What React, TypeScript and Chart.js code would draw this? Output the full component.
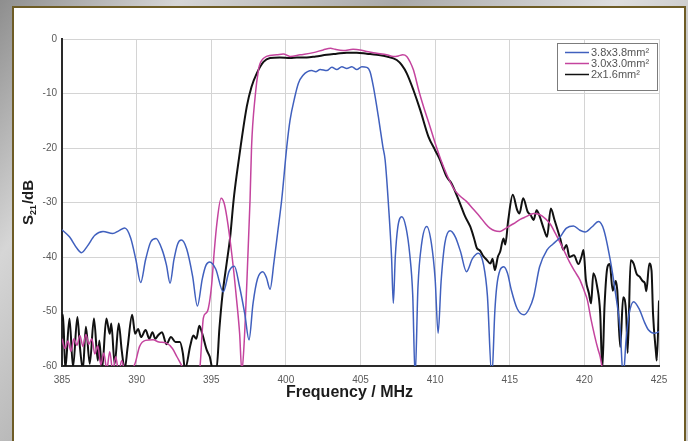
import React, { useEffect, useRef } from "react";
import { Chart, registerables } from "chart.js";

Chart.register(...registerables);

// Frequency axis (MHz) and S21 axis (dB)
const freqMin = 385;
const freqMax = 425;
const freqStep = 5;
const dbMin = -60;
const dbMax = 0;
const dbStep = 10;

const seriesLabels = ["3.8x3.8mm²", "3.0x3.0mm²", "2x1.6mm²"];
const seriesColors = ["#4060be", "#c4449e", "#111111"];
const seriesWidths = [1.5, 1.5, 2];

// [frequency MHz, S21 dB]
const trace38: [number, number][] = [
  [385, -35.0], [385.5, -36.3], [386.0, -38.4], [386.3, -39.2], [386.7, -38.0], [387.2, -36.0],
  [387.75, -35.3], [388.4, -35.7], [388.8, -35.2], [389.2, -34.7], [389.6, -36.5], [389.95, -40.5],
  [390.27, -44.7], [390.6, -40.5], [390.95, -37.2], [391.3, -36.6], [391.7, -38.6], [392.0, -41.5],
  [392.24, -44.8], [392.5, -40.5], [392.75, -37.6], [393.0, -36.9], [393.35, -38.5], [393.75, -43.5],
  [394.07, -49.0], [394.4, -44.0], [394.65, -41.5], [394.9, -40.9], [395.3, -42.2], [395.8, -46.4],
  [396.2, -42.6], [396.55, -41.7], [396.9, -45.5], [397.25, -50.5], [397.53, -55.2], [397.8, -48.5],
  [398.1, -44.0], [398.45, -42.7], [398.7, -43.8], [398.94, -45.9], [399.2, -41.0], [399.45, -35.5],
  [399.72, -29.5], [400.06, -19.8], [400.28, -14.9], [400.6, -10.6], [400.84, -8.1], [401.17, -6.6],
  [401.45, -6.0], [401.73, -5.8], [402.0, -6.0], [402.3, -5.6], [402.74, -5.8], [403.08, -5.2],
  [403.41, -5.6], [403.75, -5.1], [404.08, -5.4], [404.42, -5.1], [404.75, -5.6], [405.09, -5.1],
  [405.42, -5.2], [405.64, -6.0], [405.86, -8.7], [406.2, -14.3], [406.5, -19.8], [406.65, -22.2],
  [406.9, -31.5], [407.08, -40.0], [407.2, -48.5], [407.33, -40.0], [407.5, -34.5], [407.77, -32.6],
  [408.05, -34.6], [408.3, -39.5], [408.5, -47.0], [408.66, -62.0], [408.85, -45.5], [409.1, -37.5],
  [409.44, -34.4], [409.75, -37.5], [410.0, -44.0], [410.2, -54.0], [410.4, -44.5], [410.65, -37.5],
  [411.0, -35.2], [411.35, -36.3], [411.7, -39.0], [412.1, -42.7], [412.5, -40.3], [412.9, -39.3],
  [413.25, -41.5], [413.5, -47.0], [413.8, -62.0], [414.0, -50.0], [414.13, -45.4], [414.35, -42.4],
  [414.6, -41.8], [414.85, -43.0], [415.1, -46.0], [415.5, -49.5], [415.96, -50.6], [416.3, -49.5],
  [416.6, -47.3], [417.0, -41.8], [417.5, -38.7], [417.9, -37.6], [418.3, -36.6], [418.8, -34.7],
  [419.27, -34.3], [419.7, -35.1], [420.05, -35.4], [420.5, -34.5], [420.95, -33.5], [421.3, -35.0],
  [421.73, -40.5], [422.05, -46.0], [422.4, -53.4], [422.6, -62.0], [422.8, -55.0], [423.0, -50.4],
  [423.3, -48.2], [423.7, -49.7], [424.0, -51.8], [424.3, -53.4], [424.7, -54.0], [425.0, -53.7],
];

const trace30: [number, number][] = [
  [385.0, -55.0], [385.2, -56.8], [385.4, -55.4], [385.6, -57.3], [385.8, -55.0], [386.0, -56.2],
  [386.2, -54.4], [386.4, -56.4], [386.6, -54.2], [386.8, -56.0], [387.0, -55.0], [387.2, -57.8],
  [387.4, -56.3], [387.6, -59.8], [387.8, -57.6], [388.0, -60.6], [388.2, -57.4], [388.4, -61.0],
  [388.6, -58.3], [388.8, -61.2], [389.0, -59.0], [389.3, -62.0], [389.6, -61.0], [389.9, -59.5],
  [390.2, -56.4], [390.6, -55.3], [391.1, -55.2], [391.5, -55.6], [392.0, -55.8], [392.4, -56.8],
  [392.7, -58.3], [393.1, -60.5], [393.4, -63.5], [394.0, -63.5], [394.25, -60.0], [394.47, -51.2],
  [394.65, -50.3], [394.8, -49.5], [395.03, -45.0], [395.2, -39.0], [395.37, -34.0], [395.66, -29.2],
  [395.85, -30.0], [396.04, -32.6], [396.4, -40.0], [396.7, -47.9], [396.9, -54.0], [397.05, -61.0],
  [397.2, -56.0], [397.35, -47.0], [397.6, -29.5], [397.7, -19.8], [397.94, -10.6], [398.16, -5.7],
  [398.27, -4.5], [398.7, -3.2], [399.39, -2.9], [399.83, -2.75], [400.28, -3.2], [400.95, -2.9],
  [401.84, -2.5], [402.5, -2.0], [403.0, -1.7], [403.3, -1.9], [403.85, -2.1], [404.5, -1.9],
  [404.97, -2.0], [405.42, -2.3], [406.09, -2.6], [406.76, -2.9], [407.2, -3.2], [407.54, -3.1],
  [407.83, -2.9], [408.1, -3.2], [408.32, -4.2], [408.55, -5.7], [408.9, -9.4], [409.22, -12.4],
  [409.66, -16.1], [410.0, -19.1], [410.4, -22.3], [410.8, -25.0], [411.3, -27.7], [411.7, -28.9],
  [412.1, -29.8], [412.55, -31.2], [413.0, -32.6], [413.35, -33.8], [413.67, -34.7], [414.0, -35.2],
  [414.35, -35.3], [414.8, -34.6], [415.25, -33.9], [415.7, -33.1], [416.1, -32.6], [416.6, -32.0],
  [417.0, -32.2], [417.4, -33.0], [417.7, -33.9], [418.1, -35.9], [418.4, -37.5], [418.7, -39.2],
  [419.0, -40.9], [419.35, -42.6], [419.7, -44.2], [420.0, -46.3], [420.2, -47.9], [420.45, -51.5],
  [420.7, -54.6], [420.9, -56.8], [421.06, -58.3], [421.2, -60.5], [421.4, -64.0],
];

const trace2x16: [number, number][] = [
  [385.0, -51.8], [385.07, -50.6], [385.22, -60.6], [385.5, -51.3], [385.74, -60.2], [386.03, -51.0],
  [386.2, -56.5], [386.4, -60.6], [386.6, -52.8], [386.86, -59.6], [387.14, -51.3], [387.4, -59.0],
  [387.5, -55.3], [387.68, -60.6], [387.97, -51.3], [388.2, -54.1], [388.3, -52.2], [388.53, -59.6],
  [388.8, -52.2], [389.0, -57.1], [389.2, -60.6], [389.4, -56.5], [389.7, -50.6], [389.9, -54.1],
  [390.1, -53.2], [390.3, -54.7], [390.6, -53.4], [390.85, -55.0], [391.06, -53.8], [391.25, -55.0],
  [391.43, -54.4], [391.7, -53.8], [392.0, -56.0], [392.3, -54.7], [392.6, -55.6], [392.9, -55.6],
  [393.1, -57.7], [393.24, -60.6], [393.6, -56.2], [393.8, -54.4], [394.0, -55.0], [394.2, -52.6],
  [394.4, -54.1], [394.7, -57.1], [394.9, -58.3], [395.1, -60.6], [395.35, -60.6], [395.55, -53.0],
  [395.75, -47.0], [396.04, -41.0], [396.26, -36.5], [396.5, -29.5], [396.75, -24.0], [397.0, -19.1],
  [397.38, -12.4], [397.7, -8.75], [398.05, -6.3], [398.5, -4.2], [398.94, -3.5], [399.6, -3.4],
  [400.3, -3.5], [400.73, -3.4], [401.4, -3.4], [402.0, -3.2], [402.74, -2.9], [403.4, -2.7],
  [404.08, -2.5], [404.75, -2.5], [405.42, -2.7], [406.09, -2.9], [406.76, -3.2], [407.43, -3.85],
  [407.77, -4.8], [408.1, -6.3], [408.55, -9.4], [409.0, -13.0], [409.55, -17.9], [410.0, -20.4],
  [410.33, -22.2], [410.78, -25.3], [411.1, -26.5], [411.67, -30.2], [412.0, -32.5], [412.35, -34.4],
  [412.6, -36.5], [412.8, -38.4], [413.0, -38.8], [413.24, -39.9], [413.45, -40.5], [413.7, -41.2],
  [413.85, -40.3], [414.0, -42.4], [414.2, -40.0], [414.36, -39.0], [414.58, -36.6], [414.7, -37.7],
  [414.9, -33.2], [415.2, -28.6], [415.5, -31.4], [415.65, -32.0], [415.9, -29.2], [416.2, -31.7],
  [416.4, -32.3], [416.6, -33.2], [416.8, -31.4], [417.0, -32.5], [417.3, -35.0], [417.5, -36.3],
  [417.75, -31.1], [418.0, -33.2], [418.38, -36.6], [418.6, -38.7], [418.8, -37.8], [419.0, -40.0],
  [419.3, -39.7], [419.6, -41.3], [419.8, -40.0], [419.94, -38.7], [420.1, -44.2], [420.3, -46.6],
  [420.45, -48.5], [420.6, -43.0], [420.86, -45.5], [421.06, -50.3], [421.2, -60.6], [421.35, -49.0],
  [421.55, -41.8], [421.7, -41.3], [421.9, -46.2], [422.1, -44.4], [422.2, -46.0], [422.4, -56.5],
  [422.6, -47.4], [422.8, -50.4], [422.9, -57.6], [423.1, -40.6], [423.3, -41.2], [423.5, -43.1],
  [423.7, -43.6], [423.9, -44.4], [424.05, -44.8], [424.15, -46.3], [424.35, -41.2], [424.5, -42.5],
  [424.6, -50.4], [424.8, -57.6], [424.85, -59.0], [425.0, -48.0],
];

const traces = [trace38, trace30, trace2x16];

const FONT = '"Liberation Sans", Arial, sans-serif';
const W = 688;
const H = 441;

// Axis titles (with subscript) and a boxed legend inside the plot
const decorPlugin = {
  id: "decor",
  afterDraw(chart: any) {
    const { ctx, chartArea } = chart;
    ctx.save();
    ctx.fillStyle = "#1c1c1c";

    // x title
    ctx.font = `bold 16px ${FONT}`;
    ctx.textAlign = "center";
    ctx.textBaseline = "middle";
    ctx.fillText("Frequency / MHz", chartArea.left + (chartArea.right - chartArea.left) / 2 - 11, 393);

    // y title: S21/dB rotated, with subscript
    ctx.textAlign = "left";
    ctx.textBaseline = "alphabetic";
    ctx.font = `bold 15px ${FONT}`;
    const wS = ctx.measureText("S").width;
    const wTail = ctx.measureText("/dB").width;
    ctx.font = `bold 9px ${FONT}`;
    const wSub = ctx.measureText("21").width;
    const total = wS + wSub + 1 + wTail;
    const midY = (chartArea.top + chartArea.bottom) / 2;
    ctx.translate(33, midY + total / 2);
    ctx.rotate(-Math.PI / 2);
    ctx.font = `bold 15px ${FONT}`;
    ctx.fillText("S", 0, 0);
    ctx.font = `bold 9px ${FONT}`;
    ctx.fillText("21", wS, 3);
    ctx.font = `bold 15px ${FONT}`;
    ctx.fillText("/dB", wS + wSub + 1, 0);
    ctx.restore();

    // legend box
    ctx.save();
    const bx = 557.5;
    const by = 43.5;
    ctx.fillStyle = "#ffffff";
    ctx.fillRect(bx, by, 100, 47);
    ctx.strokeStyle = "#7c7c7c";
    ctx.lineWidth = 1;
    ctx.strokeRect(bx, by, 100, 47);
    ctx.font = `11px ${FONT}`;
    ctx.textBaseline = "middle";
    ctx.textAlign = "left";
    chart.data.datasets.forEach((ds: any, i: number) => {
      const y = 52.5 + i * 11;
      ctx.strokeStyle = ds.borderColor;
      ctx.lineWidth = 1.5;
      ctx.beginPath();
      ctx.moveTo(565, y);
      ctx.lineTo(589, y);
      ctx.stroke();
      ctx.fillStyle = "#555555";
      ctx.fillText(ds.label, 591, y + 0.5);
    });
    ctx.restore();
  },
};

export default function App() {
  const canvasRef = useRef<HTMLCanvasElement | null>(null);

  useEffect(() => {
    if (!canvasRef.current) return;
    const chart = new Chart(canvasRef.current, {
      type: "line",
      data: {
        datasets: traces.map((trace, i) => ({
          label: seriesLabels[i],
          data: trace.map(([x, y]) => ({ x, y })),
          borderColor: seriesColors[i],
          borderWidth: seriesWidths[i],
          pointRadius: 0,
          fill: false,
          cubicInterpolationMode: "monotone" as const,
        })),
      },
      options: {
        responsive: false,
        animation: false,
        events: [],
        layout: { padding: { left: 0, right: 29, top: 39, bottom: 0 } },
        plugins: {
          legend: { display: false },
          tooltip: { enabled: false },
        },
        scales: {
          x: {
            type: "linear",
            min: freqMin,
            max: freqMax,
            afterFit: (s: any) => {
              s.height = 75;
            },
            ticks: {
              stepSize: freqStep,
              color: "#5a5a5a",
              font: { family: FONT, size: 10 },
              padding: 8,
              maxRotation: 0,
            },
            grid: { color: "#d4d4d4", lineWidth: 1, drawTicks: false },
            border: { color: "#2a2a2a", width: 2 },
          },
          y: {
            min: dbMin,
            max: dbMax,
            afterFit: (s: any) => {
              s.width = 62;
            },
            ticks: {
              stepSize: dbStep,
              color: "#5a5a5a",
              font: { family: FONT, size: 10 },
              padding: 5,
            },
            grid: { color: "#d4d4d4", lineWidth: 1, drawTicks: false },
            border: { color: "#2a2a2a", width: 2 },
          },
        },
      },
      plugins: [decorPlugin],
    });
    return () => chart.destroy();
  }, []);

  return (
    <div
      style={{
        position: "fixed",
        left: 0,
        top: 0,
        width: W,
        height: H,
        overflow: "hidden",
        background:
          "linear-gradient(125deg, #8e8e8e 0%, #d6d6d6 18%, #a9a9a9 40%, #dedede 62%, #b4b4b4 82%, #cfcfcf 100%)",
      }}
    >
      <div
        style={{
          position: "absolute",
          left: 12,
          top: 6,
          width: 670,
          height: 470,
          background: "#ffffff",
          border: "2px solid #6e5c26",
        }}
      />
      <canvas
        ref={canvasRef}
        width={W}
        height={H}
        style={{ position: "absolute", left: 0, top: 0, display: "block" }}
      />
    </div>
  );
}
